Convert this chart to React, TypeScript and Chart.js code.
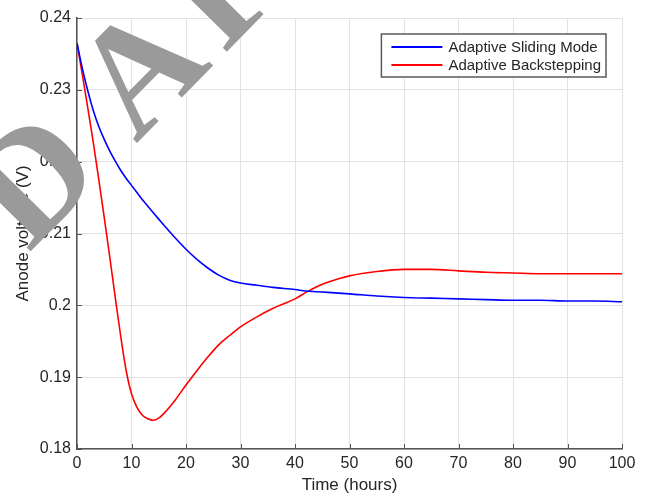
import React, { useEffect, useRef } from "react";
import { Chart, registerables } from "chart.js";

Chart.register(...registerables);

// ---- data ----
const timeHours = [0, 1, 2, 3, 4, 5, 6, 7, 8, 9, 10, 11, 12, 13, 14, 15, 16, 18, 20, 22, 24, 26, 28, 30, 33, 36, 40, 42, 44, 46, 48, 50, 55, 60, 65, 70, 75, 80, 85, 90, 95, 100];

const slidingMode = [0.2365, 0.2329, 0.2298, 0.2271, 0.2249, 0.2231, 0.2215, 0.2201, 0.2188, 0.2177, 0.2167, 0.2157, 0.2147, 0.2138, 0.2129, 0.212, 0.2111, 0.2094, 0.2078, 0.2064, 0.2052, 0.2042, 0.2035, 0.2031, 0.2028, 0.2025, 0.2022, 0.202, 0.2019, 0.2018, 0.2017, 0.2016, 0.2013, 0.2011, 0.201, 0.2009, 0.2008, 0.2007, 0.2007, 0.2006, 0.2006, 0.2005];

const backstepping = [0.2365, 0.232, 0.2274, 0.2226, 0.2175, 0.2122, 0.2068, 0.2012, 0.1958, 0.191, 0.1877, 0.1858, 0.1847, 0.1842, 0.184, 0.1843, 0.185, 0.1868, 0.1889, 0.1909, 0.1928, 0.1945, 0.1958, 0.197, 0.1984, 0.1996, 0.2009, 0.2018, 0.2026, 0.2032, 0.2037, 0.2041, 0.2047, 0.205, 0.205, 0.2048, 0.2046, 0.2045, 0.2044, 0.2044, 0.2044, 0.2044];

const seriesNames = ["Adaptive Sliding Mode", "Adaptive Backstepping"];
const seriesColors = ["#0000ff", "#ff0000"];

const xTicks = [0, 10, 20, 30, 40, 50, 60, 70, 80, 90, 100];
const xTickLabels = ["0", "10", "20", "30", "40", "50", "60", "70", "80", "90", "100"];
const yTicks = [0.18, 0.19, 0.2, 0.21, 0.22, 0.23, 0.24];
const yTickLabels = ["0.18", "0.19", "0.2", "0.21", "0.22", "0.23", "0.24"];

const xTitle = "Time (hours)";
const yTitle = "Anode voltage (V)";
const watermarkLetters = ["D", "A", "F"];

const FONT = "'Liberation Sans', Arial, Helvetica, sans-serif";
const TEXT = "#262626";
const AXIS = "#555555";
const GRID = "#e2e2e2";

const decorations = {
  id: "decorations",
  afterDraw(chart: any) {
    const ctx = chart.ctx as CanvasRenderingContext2D;
    const area = chart.chartArea;
    const xs = chart.scales.x;
    const ys = chart.scales.y;

    // inward tick marks (MATLAB style)
    ctx.save();
    ctx.strokeStyle = AXIS;
    ctx.lineWidth = 1;
    ctx.beginPath();
    xTicks.forEach((v) => {
      const px = Math.round(xs.getPixelForValue(v)) + 0.5;
      ctx.moveTo(px, area.bottom);
      ctx.lineTo(px, area.bottom - 5);
    });
    yTicks.forEach((v) => {
      const py = Math.round(ys.getPixelForValue(v)) + 0.5;
      ctx.moveTo(area.left, py);
      ctx.lineTo(area.left + 5, py);
    });
    ctx.stroke();
    ctx.restore();

    // legend box
    ctx.save();
    ctx.font = `15px ${FONT}`;
    const ds = chart.data.datasets;
    let maxW = 0;
    ds.forEach((d: any) => {
      maxW = Math.max(maxW, ctx.measureText(d.label).width);
    });
    const lineLen = 51;
    const padL = 10;
    const gap = 6;
    const padR = 5;
    const boxW = padL + lineLen + gap + maxW + padR;
    const boxH = 43;
    const boxRight = area.right - 16;
    const boxTop = area.top + 16;
    const boxLeft = boxRight - boxW;
    ctx.fillStyle = "#ffffff";
    ctx.fillRect(boxLeft, boxTop, boxW, boxH);
    ctx.strokeStyle = "#5a5a5a";
    ctx.lineWidth = 1.5;
    ctx.strokeRect(boxLeft, boxTop, boxW, boxH);
    ds.forEach((d: any, i: number) => {
      const cy = boxTop + 13 + i * 18;
      ctx.strokeStyle = d.borderColor;
      ctx.lineWidth = 2;
      ctx.beginPath();
      ctx.moveTo(boxLeft + padL, cy);
      ctx.lineTo(boxLeft + padL + lineLen, cy);
      ctx.stroke();
      ctx.fillStyle = TEXT;
      ctx.textAlign = "left";
      ctx.textBaseline = "middle";
      ctx.fillText(d.label, boxLeft + padL + lineLen + gap, cy + 1);
    });
    ctx.restore();

    // watermark
    ctx.save();
    ctx.fillStyle = "#9a9a9a";
    ctx.font = `bold 154px 'Liberation Serif', 'Times New Roman', serif`;
    ctx.textAlign = "left";
    ctx.textBaseline = "alphabetic";
    ctx.translate(area.left + 59, area.top + 126);
    ctx.rotate((-45.5 * Math.PI) / 180);
    ctx.fillText(watermarkLetters[0], -153, 0);
    ctx.fillText(watermarkLetters[1], 0, 0);
    ctx.fillText(watermarkLetters[2], 126, 0);
    ctx.restore();
  },
};

export default function App() {
  const ref = useRef<HTMLCanvasElement | null>(null);

  useEffect(() => {
    document.body.style.margin = "0";
    const canvas = ref.current;
    if (!canvas) return;
    const chart = new Chart(canvas, {
      type: "line",
      data: {
        datasets: [
          {
            label: seriesNames[0],
            data: timeHours.map((t, i) => ({ x: t, y: slidingMode[i] })),
            borderColor: seriesColors[0],
            backgroundColor: seriesColors[0],
            borderWidth: 1.6,
            pointRadius: 0,
            fill: false,
            cubicInterpolationMode: "monotone",
          },
          {
            label: seriesNames[1],
            data: timeHours.map((t, i) => ({ x: t, y: backstepping[i] })),
            borderColor: seriesColors[1],
            backgroundColor: seriesColors[1],
            borderWidth: 1.6,
            pointRadius: 0,
            fill: false,
            cubicInterpolationMode: "monotone",
          },
        ],
      },
      options: {
        responsive: false,
        animation: false,
        devicePixelRatio: 1,
        layout: { padding: { top: 18, right: 24, left: 0, bottom: 0 } },
        plugins: {
          legend: { display: false },
          tooltip: { enabled: false },
        },
        scales: {
          x: {
            type: "linear",
            min: 0,
            max: 100,
            afterBuildTicks: (scale: any) => {
              scale.ticks = xTicks.map((v) => ({ value: v }));
            },
            afterFit: (scale: any) => {
              scale.height = 50;
            },
            ticks: {
              autoSkip: false,
              maxRotation: 0,
              padding: 5,
              color: TEXT,
              font: { family: FONT, size: 16 },
              callback: (_v: any, i: number) => xTickLabels[i],
            },
            grid: { color: GRID, lineWidth: 1, drawTicks: false },
            border: { display: true, color: AXIS, width: 1.5 },
            title: {
              display: true,
              text: xTitle,
              color: TEXT,
              font: { family: FONT, size: 17 },
              padding: { top: 0, bottom: 3 },
            },
          },
          y: {
            type: "linear",
            min: 0.18,
            max: 0.24,
            afterBuildTicks: (scale: any) => {
              scale.ticks = yTicks.map((v) => ({ value: v }));
            },
            afterFit: (scale: any) => {
              scale.width = 77;
            },
            ticks: {
              autoSkip: false,
              padding: 6,
              color: TEXT,
              font: { family: FONT, size: 16 },
              callback: (_v: any, i: number) => yTickLabels[i],
            },
            grid: { color: GRID, lineWidth: 1, drawTicks: false },
            border: { display: true, color: AXIS, width: 1.5 },
            title: {
              display: true,
              text: yTitle,
              color: TEXT,
              font: { family: FONT, size: 17 },
              padding: { top: 13, bottom: 0 },
            },
          },
        },
      },
      plugins: [decorations],
    } as any);
    return () => chart.destroy();
  }, []);

  return (
    <div style={{ position: "absolute", left: 0, top: 0, width: 646, height: 499, background: "#ffffff" }}>
      <canvas ref={ref} width={646} height={499} />
    </div>
  );
}
